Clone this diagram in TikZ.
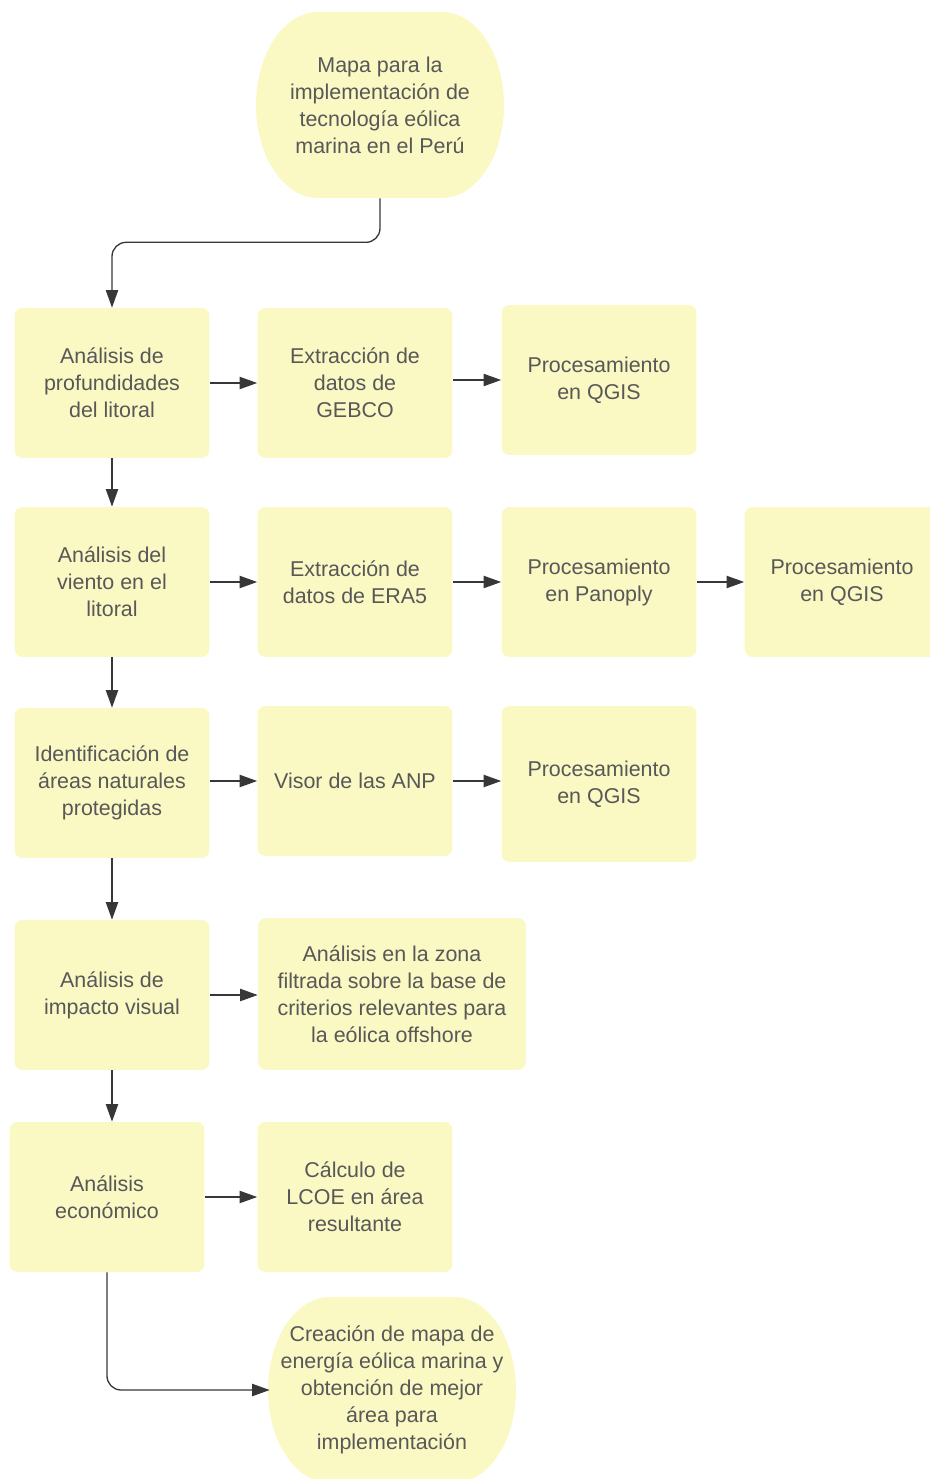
\documentclass[tikz,border=0pt]{standalone}
\usepackage{fontspec}
\setmainfont{Liberation Sans}
\usetikzlibrary{arrows.meta}

\definecolor{amarillo}{RGB}{250,248,195}
\definecolor{texto}{RGB}{88,88,88}
\definecolor{linea}{RGB}{55,55,55}

\begin{document}
\begin{tikzpicture}[x=0.02cm,y=-0.02cm,
    font=\fontsize{12.2}{15.4}\selectfont,
    caja/.style={fill=amarillo, rounded corners=0.16cm, minimum width=3.9cm,
        minimum height=3cm, align=center, text=texto, inner sep=2pt},
    term/.style={minimum width=4.88cm, minimum height=3.72cm, align=center, text=texto},
    flecha/.style={draw=linea, line width=0.75pt, -{Triangle[length=10pt,width=7pt]}}]
    \clip (0,0) rectangle (930,1479);

    % terminales
    \fill[amarillo] (318,12) -- (442,12)
        arc[start angle=90,end angle=-90,x radius=1.24cm,y radius=1.86cm] -- (318,198)
        arc[start angle=270,end angle=90,x radius=1.24cm,y radius=1.86cm] -- cycle;
    \fill[amarillo] (330,1297) -- (454,1297)
        arc[start angle=90,end angle=-90,x radius=1.24cm,y radius=1.86cm] -- (330,1483)
        arc[start angle=270,end angle=90,x radius=1.24cm,y radius=1.86cm] -- cycle;
    \node[term, text depth=0pt] (mapa) at (380,105) {Mapa para la\\implementación de\\tecnología eólica\\marina en el Perú};
    \node[term] (final) at (392,1390) {Creación de mapa de\\energía eólica marina y\\obtención de mejor\\área para\\implementación};

    % fila 1
    \node[caja] (prof) at (112,383) {Análisis de\\profundidades\\del litoral};
    \node[caja] (gebco) at (355,383) {Extracción de\\datos de\\GEBCO};
    \node[caja] (qgisA) at (599,380) {Procesamiento\\en QGIS};

    % fila 2
    \node[caja] (viento) at (112,582) {Análisis del\\viento en el\\litoral};
    \node[caja] (era) at (355,582) {Extracción de\\datos de ERA5};
    \node[caja] (panoply) at (599,582) {Procesamiento\\en Panoply};
    \node[caja] (qgisB) at (842,582) {Procesamiento\\en QGIS};

    % fila 3
    \node[caja] (anp) at (112,783) {Identificación de\\áreas naturales\\protegidas};
    \node[caja] (visor) at (355,781) {Visor de las ANP};
    \node[caja, minimum height=3.12cm] (qgisC) at (599,784) {Procesamiento\\en QGIS};

    % fila 4
    \node[caja] (impacto) at (112,995) {Análisis de\\impacto visual};
    \node[caja, minimum width=5.36cm, minimum height=3.04cm] (zona) at (392,994)
        {Análisis en la zona\\filtrada sobre la base de\\criterios relevantes para\\la eólica offshore};

    % fila 5
    \node[caja] (econ) at (107,1197) {Análisis\\económico};
    \node[caja] (lcoe) at (355,1197) {Cálculo de\\LCOE en área\\resultante};

    % conectores
    \draw[flecha, rounded corners=8pt] (mapa.south) -- ++(0,44) -| (prof.north);
    \draw[flecha] (prof) -- (gebco);
    \draw[flecha] (gebco.east |- qgisA) -- (qgisA);
    \draw[flecha] (prof) -- (viento);
    \draw[flecha] (viento) -- (era);
    \draw[flecha] (era) -- (panoply);
    \draw[flecha] (panoply) -- (qgisB);
    \draw[flecha] (viento) -- (anp);
    \draw[flecha] (anp.east |- visor) -- (visor);
    \draw[flecha] (visor) -- (visor -| qgisC.west);
    \draw[flecha] (anp) -- (impacto);
    \draw[flecha] (impacto) -- (impacto -| zona.west);
    \draw[flecha] (impacto.south) -- (impacto.south |- econ.north);
    \draw[flecha] (econ) -- (lcoe);
    \draw[flecha, rounded corners=8pt] (econ.south) |- (final.west);
\end{tikzpicture}
\end{document}
